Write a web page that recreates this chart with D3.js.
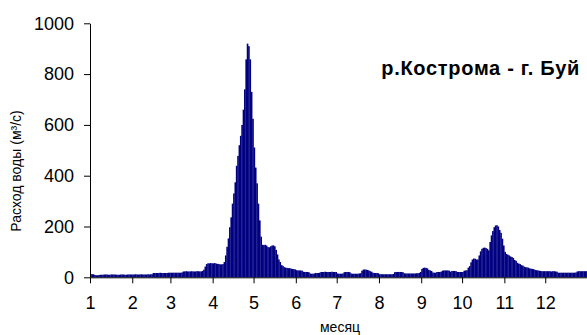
<!DOCTYPE html>
<html>
<head>
<meta charset="utf-8">
<script src="https://cdn.jsdelivr.net/npm/d3@7"></script>
<style>
  body { margin: 0; background: #fff; }
  svg { display: block; font-family: Arial, "Liberation Sans", sans-serif; }
</style>
</head>
<body>
<svg id="chart" width="587" height="335"></svg>
<script>
// daily discharge, m3/s, one array per month
var jan = [13,12,12,9,8,8,9,10,10,10,11,11,11,10,10,11,11,11,11,10,10,10,11,11,11,10,10,11,11,11,11];
var feb = [11,11,12,11,11,11,12,11,11,11,11,12,11,12,12,17,17,17,17,17,18,17,17,17,17,17,18,18];
var mar = [18,18,18,18,18,18,18,18,19,23,23,24,23,23,23,24,23,23,23,24,24,23,23,25,30,42,52,55,55,56,55];
var apr = [55,56,54,53,52,51,51,52,60,86,120,153,197,236,290,330,374,439,478,520,557,600,660,740,858,920,910,858,730,624];
var may = [511,432,370,290,224,160,128,127,128,125,119,118,122,125,126,122,108,90,70,60,48,45,40,38,37,36,36,34,33,32,31];
var jun = [28,27,27,27,26,22,21,21,21,20,15,14,14,15,17,17,17,18,21,21,21,22,21,21,21,21,22,21,21,21];
var jul = [15,14,14,14,15,20,21,21,21,20,15,14,14,14,14,14,15,16,26,30,31,30,29,27,24,22,18,17,17,17,16];
var aug = [12,12,12,12,12,12,12,12,12,12,13,20,21,21,21,21,21,20,16,15,15,15,15,15,15,15,15,16,16,17,21];
var sep = [33,37,38,37,35,29,27,25,19,18,18,21,21,21,22,26,27,27,27,27,26,22,25,25,25,24,21,21,21,21];
var oct = [21,26,27,28,38,44,59,70,74,73,70,70,86,102,112,116,117,115,112,106,139,165,182,197,204,205,200,186,175,152,125];
var nov = [100,92,89,86,82,80,76,68,65,57,54,52,48,46,42,40,39,38,35,34,33,32,29,28,27,26,25,24,24,24];
var dec = [24,24,24,24,23,24,24,23,22,18,18,18,18,18,18,18,18,18,18,18,18,18,19,23,24,24,24,24,24,24,24];

var monthLabels = ["1","2","3","4","5","6","7","8","9","10","11","12"];
var yTicks = [0, 200, 400, 600, 800, 1000];
var title = "р.Кострома - г. Буй";
var yTitle = "Расход воды (м³/с)";
var xTitle = "месяц";

var months = [jan, feb, mar, apr, may, jun, jul, aug, sep, oct, nov, dec];
var flow = [];
var monthStarts = [];
months.forEach(function(m) {
    monthStarts.push(flow.length);
    flow = flow.concat(m);
});

var svg = d3.select("#chart");

var x = d3.scaleLinear().domain([0, flow.length]).range([90, 587.5]);
var y = d3.scaleLinear().domain([0, 1000]).range([277.3, 23.3]);
var step = x(1) - x(0);

// bars (slight overlap so they read as a solid fill, like the original)
svg.append("g")
    .selectAll("rect")
    .data(flow)
    .enter()
    .append("rect")
    .attr("x", function(d, i) { return x(i); })
    .attr("y", function(d) { return y(d); })
    .attr("width", step + 0.25)
    .attr("height", function(d) { return y(0) - y(d); })
    .attr("fill", "#000080");

// y axis
var yAxis = svg.append("g")
    .attr("transform", "translate(" + x(0) + ",0)")
    .call(d3.axisLeft(y).tickValues(yTicks).tickFormat(d3.format("d"))
        .tickSize(6).tickSizeOuter(0).tickPadding(10));

// x axis
var xAxis = svg.append("g")
    .attr("transform", "translate(0," + y(0) + ")")
    .call(d3.axisBottom(x).tickValues(monthStarts)
        .tickFormat(function(d, i) { return monthLabels[i]; })
        .tickSize(6).tickSizeOuter(0).tickPadding(13));

[yAxis, xAxis].forEach(function(ax) {
    ax.select(".domain").attr("stroke", "#000");
    ax.selectAll(".tick line").attr("stroke", "#000");
    ax.selectAll(".tick text")
        .attr("fill", "#000")
        .style("font-size", "18px")
        .style("font-family", "Arial, 'Liberation Sans', sans-serif");
});

svg.append("text")
    .attr("x", 580)
    .attr("y", 75)
    .attr("text-anchor", "end")
    .style("font-size", "20px")
    .style("font-weight", "bold")
    .style("letter-spacing", "0.7px")
    .text(title);

svg.append("text")
    .attr("transform", "translate(21,171)rotate(-90)")
    .attr("text-anchor", "middle")
    .style("font-size", "14px")
    .text(yTitle);

svg.append("text")
    .attr("x", 340)
    .attr("y", 332)
    .attr("text-anchor", "middle")
    .style("font-size", "14px")
    .text(xTitle);
</script>
</body>
</html>
